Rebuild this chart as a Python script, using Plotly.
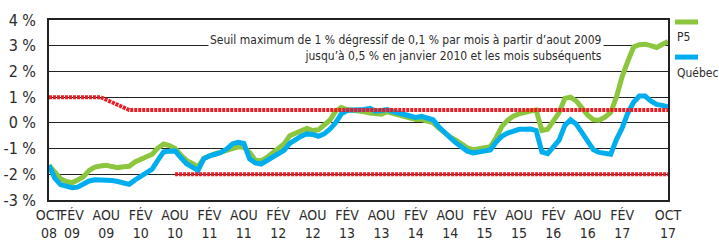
import pandas as pd
import plotly.graph_objects as go

# Monthly x categories: Oct 2008 .. Oct 2017 (109 months), as month index
months = list(range(0, 109))

p5 = [-1.65, -1.95, -2.17, -2.28, -2.33, -2.22, -2.10, -1.85, -1.72, -1.68,
      -1.65, -1.70, -1.74, -1.71, -1.69, -1.52, -1.42, -1.36, -1.22, -0.98,
      -0.82, -0.88, -1.00, -1.25, -1.46, -1.58, -1.71, -1.38, -1.28, -1.20,
      -1.14, -1.08, -0.98, -0.93, -0.95, -1.15, -1.45, -1.47, -1.35, -1.18,
      -1.00, -0.82, -0.50, -0.38, -0.31, -0.22, -0.30, -0.27, -0.10, 0.10,
      0.45, 0.60, 0.52, 0.50, 0.48, 0.43, 0.38, 0.35, 0.34, 0.43,
      0.36, 0.30, 0.24, 0.17, 0.13, 0.13, 0.08, 0.01, -0.20, -0.40,
      -0.55, -0.67, -0.82, -0.97, -1.04, -1.01, -0.97, -0.93, -0.58, -0.15,
      0.10, 0.26, 0.35, 0.43, 0.46, 0.50, -0.30, -0.25, 0.05, 0.40,
      0.95, 1.00, 0.85, 0.55, 0.30, 0.12, 0.10, 0.22, 0.40, 1.00,
      1.80, 2.40, 2.95, 3.04, 3.06, 3.00, 2.93, 3.05, 3.17]

quebec = [-1.65, -2.15, -2.40, -2.47, -2.52, -2.50, -2.38, -2.26, -2.21, -2.21,
          -2.21, -2.24, -2.28, -2.34, -2.39, -2.22, -2.08, -1.98, -1.80, -1.45,
          -1.13, -1.10, -1.09, -1.35, -1.59, -1.72, -1.85, -1.40, -1.28, -1.22,
          -1.15, -1.02, -0.82, -0.76, -0.80, -1.40, -1.56, -1.60, -1.48, -1.33,
          -1.20, -1.07, -0.80, -0.65, -0.52, -0.43, -0.45, -0.52, -0.43, -0.25,
          0.00, 0.35, 0.48, 0.50, 0.50, 0.52, 0.56, 0.45, 0.48, 0.52,
          0.44, 0.37, 0.30, 0.24, 0.21, 0.25, 0.20, 0.12, -0.15, -0.40,
          -0.58, -0.78, -0.97, -1.10, -1.17, -1.14, -1.10, -1.05, -0.75, -0.52,
          -0.40, -0.32, -0.25, -0.25, -0.24, -0.30, -1.13, -1.20, -0.95, -0.67,
          -0.10, 0.12, -0.05, -0.40, -0.75, -1.05, -1.15, -1.20, -1.22, -0.65,
          -0.20, 0.39, 0.80, 1.04, 1.04, 0.85, 0.72, 0.68, 0.62]

# Upper threshold: 1 % then -0.1 % per month from Aug 2009 down to 0.5 %
upper = [1.0] * 10 + [0.9, 0.8, 0.7, 0.6] + [0.5] * 95
# Lower threshold: -2 % from Aug 2010
lower = [None] * 22 + [-2.0] * 87

tick_months = [0, 4, 10, 16, 22, 28, 34, 40, 46, 52, 58, 64, 70, 76, 82, 88, 94, 100, 108]
tick_labels = ["OCT<br>08", "FÉV<br>09", "AOU<br>09", "FÉV<br>10", "AOU<br>10",
               "FÉV<br>11", "AOU<br>11", "FÉV<br>12", "AOU<br>12", "FÉV<br>13",
               "AOU<br>13", "FÉV<br>14", "AOU<br>14", "FÉV<br>15", "AOU<br>15",
               "FÉV<br>16", "AOU<br>16", "FÉV<br>17", "OCT<br>17"]
y_ticks = [-3, -2, -1, 0, 1, 2, 3, 4]
y_labels = ["-3 %", "-2 %", "-1 %", "0 %", "1 %", "2 %", "3 %", "4 %"]

GREEN = "#8cc63f"
BLUE = "#00aeef"
RED = "#ec1c24"
FONT = "DejaVu Sans Condensed, Liberation Sans Narrow, sans-serif"
TXT = "#2b2b2b"

fig = go.Figure()
fig.add_trace(go.Scatter(x=months, y=p5, mode="lines", name="P5",
                         line=dict(color=GREEN, width=5), showlegend=False))
fig.add_trace(go.Scatter(x=months, y=quebec, mode="lines", name="Québec",
                         line=dict(color=BLUE, width=5), showlegend=False))
fig.add_trace(go.Scatter(x=months, y=upper, mode="lines", showlegend=False,
                         line=dict(color=RED, width=4, dash="3px,1px")))
fig.add_trace(go.Scatter(x=months, y=lower, mode="lines", showlegend=False,
                         line=dict(color=RED, width=4, dash="3px,1px")))

fig.update_layout(
    width=719, height=246,
    margin=dict(l=49, r=51, t=20, b=46, autoexpand=False),
    plot_bgcolor="white", paper_bgcolor="white",
    font=dict(family=FONT, color=TXT),
)
fig.update_xaxes(range=[0, 108], tickvals=tick_months, ticktext=tick_labels,
                 tickangle=0, automargin=False,
                 showgrid=False, zeroline=False, showline=True, linecolor="#222",
                 linewidth=1.5, mirror=True, ticks="", ticklabelstandoff=1,
                 tickfont=dict(size=14, family=FONT, color=TXT))
fig.update_yaxes(range=[-3, 4], tickvals=y_ticks, ticktext=y_labels,
                 automargin=False,
                 showgrid=True, gridcolor="#222", gridwidth=1, zeroline=False,
                 showline=True, linecolor="#222", linewidth=1.5, mirror=True,
                 ticks="", ticklabelstandoff=8,
                 tickfont=dict(size=16, family=FONT, color=TXT))

fig.add_annotation(
    xref="paper", yref="paper", x=0.8966, y=0.847, xanchor="right", yanchor="middle",
    text="Seuil maximum de 1 % dégressif de 0,1 % par mois à partir d’aout 2009<br>"
         "jusqu’à 0,5 % en janvier 2010 et les mois subséquents",
    align="right", showarrow=False, bgcolor="white", borderpad=1,
    font=dict(size=12, family=FONT, color=TXT))

# Legend (text beneath colour swatch)
for yl, yt, col, lab in [(0.989, 0.906, GREEN, "P5"), (0.794, 0.706, BLUE, "Québec")]:
    fig.add_shape(type="line", xref="paper", yref="paper", x0=1.0113, x1=1.0485,
                  y0=yl, y1=yl, line=dict(color=col, width=5))
    fig.add_annotation(xref="paper", yref="paper", x=1.0113, y=yt, xanchor="left",
                       yanchor="middle", text=lab, showarrow=False,
                       font=dict(size=12, family=FONT, color=TXT))

fig.write_html("out.html", config={"displayModeBar": False},
               post_script="document.body.style.margin='0';document.body.style.overflow='hidden';")
